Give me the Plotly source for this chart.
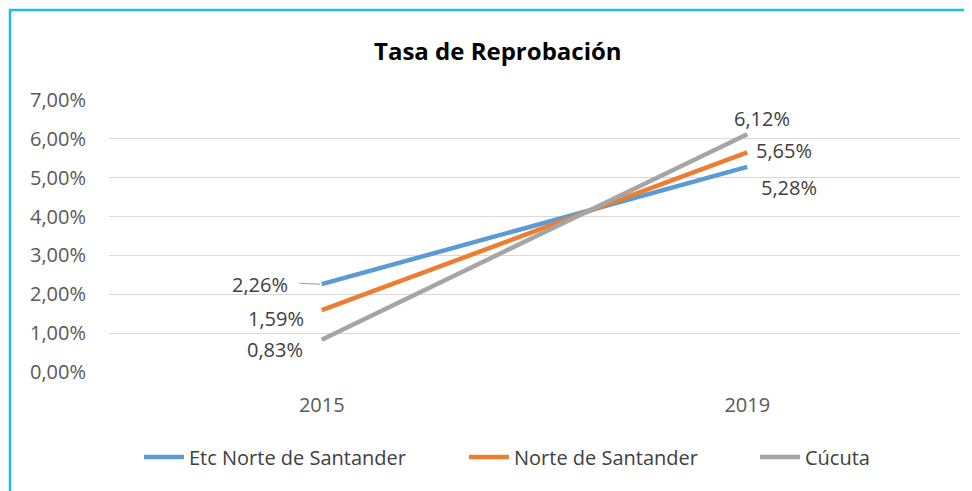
import plotly.graph_objects as go

years = ["2015", "2019"]
series_names = ["Etc Norte de Santander", "Norte de Santander", "Cúcuta"]
etc_values = [0.0226, 0.0528]
nds_values = [0.0159, 0.0565]
cucuta_values = [0.0083, 0.0612]
label_texts = [["2,26%", "5,28%"], ["1,59%", "5,65%"], ["0,83%", "6,12%"]]
y_ticks = [0, 0.01, 0.02, 0.03, 0.04, 0.05, 0.06, 0.07]
title_text = "Tasa de Reprobación"

colors = ["#5B9BD5", "#ED7D31", "#A5A5A5"]
values = [etc_values, nds_values, cucuta_values]

W, H = 972, 491
OFF = 8  # page body margin compensation
L, R, T, B = 109 - OFF, 960 - OFF, 100 - OFF, 372 - OFF
FONT = "Open Sans, Noto Sans, sans-serif"

fig = go.Figure()
legend_ids = ["legend", "legend2", "legend3"]
for name, vals, col, lg in zip(series_names, values, colors, legend_ids):
    fig.add_trace(go.Scatter(x=years, y=vals, mode="lines", name=name, legend=lg,
                             line=dict(color=col, width=4.5)))

offsets = [[(-62, 0), (42, -21)], [(-46, -8), (37, 2)], [(-47, -10), (15, 16)]]
font_lbl = dict(family=FONT, size=20, color="#404040")
annotations = []
for si, vals in enumerate(values):
    for pi, v in enumerate(vals):
        dx, dy = offsets[si][pi]
        annotations.append(dict(x=pi, y=v, xref="x", yref="y", text=label_texts[si][pi],
                                showarrow=False, xshift=dx, yshift=dy, font=font_lbl))
annotations.append(dict(x=0, y=etc_values[0], xref="x", yref="y", text="",
                        showarrow=True, arrowhead=0, arrowwidth=1.2, arrowcolor="#A5A5A5",
                        ax=-24, ay=-1, standoff=2))
annotations.append(dict(x=(498 - OFF) / W, y=1 - (50 - OFF) / H, xref="paper", yref="paper",
                        yanchor="middle", text="<b>" + title_text + "</b>", showarrow=False,
                        font=dict(family=FONT, size=24, color="#000000")))

text_starts = [190, 515, 806]
leg_font = dict(family=FONT, size=20, color="#404040")
leg_common = dict(orientation="h", yanchor="middle", y=1 - (457 - OFF) / H, xanchor="left",
                  font=leg_font, bgcolor="rgba(0,0,0,0)", itemwidth=40)

fig.update_layout(
    width=W, height=H,
    margin=dict(l=0, r=0, t=0, b=0, autoexpand=False),
    paper_bgcolor="white", plot_bgcolor="white",
    separators=",.",
    showlegend=True,
    legend=dict(x=(text_starts[0] - OFF - 51) / W, **leg_common),
    legend2=dict(x=(text_starts[1] - OFF - 51) / W, **leg_common),
    legend3=dict(x=(text_starts[2] - OFF - 51) / W, **leg_common),
    xaxis=dict(domain=[L / W, R / W], type="category", range=[-0.5, 1.5], showgrid=False,
               showline=False, zeroline=False, ticks="", ticklabelstandoff=19, automargin=False,
               tickfont=dict(family=FONT, size=20, color="#595959")),
    yaxis=dict(domain=[1 - B / H, 1 - T / H], range=[0, 0.07], tickvals=y_ticks, tickformat=".2%",
               showgrid=True, gridcolor="#D9D9D9", gridwidth=1, zeroline=False, showline=False,
               ticks="", ticklabelstandoff=22, automargin=False,
               tickfont=dict(family=FONT, size=20, color="#595959")),
    annotations=annotations,
    shapes=[dict(type="rect", xref="paper", yref="paper", x0=(10 - OFF) / W, x1=1.02, y0=-0.05,
                 y1=1 - (10 - OFF) / H,
                 line=dict(color="#1CBCF0", width=2.5), fillcolor="rgba(0,0,0,0)", layer="below")],
)

fig.write_html("out.html")
